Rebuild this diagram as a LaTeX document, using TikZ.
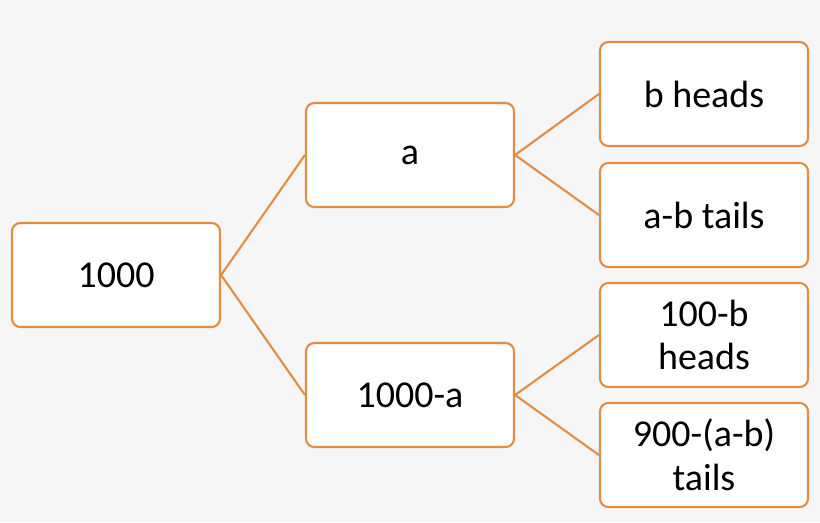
\documentclass[tikz,border=0pt]{standalone}
\usepackage{fontspec}
\setmainfont{Carlito}
\usetikzlibrary{positioning}
\definecolor{boxorange}{HTML}{E08E45}
\definecolor{paper}{HTML}{F6F6F6}

\begin{document}
\begin{tikzpicture}[x=0.025cm,y=-0.025cm,thick,
    tree node/.style={rectangle,rounded corners=6pt,draw=boxorange,line width=1.5pt,fill=white,
        minimum width=5.2cm,minimum height=2.6cm,align=center,font=\fontsize{27}{31}\selectfont},
    branch/.style={draw=boxorange,line width=1.5pt}]
    \fill[paper] (0,0) rectangle (820,522);
    \node[tree node] (root) at (116,275) {1000};
    \node[tree node] (a) at (410,155) {a};
    \node[tree node] (na) at (410,395) {1000-a};
    \node[tree node] (bh) at (704,94) {b heads};
    \node[tree node] (abt) at (704,215) {a-b tails};
    \node[tree node] (ch) at (704,335) {100-b\\heads};
    \node[tree node] (dt) at (704,455) {900-(a-b)\\tails};

    \path[branch]
        (root.east) edge (a.west)
        (root.east) edge (na.west)
        (a.east) edge (bh.west)
        (a.east) edge (abt.west)
        (na.east) edge (ch.west)
        (na.east) edge (dt.west)
        ;
\end{tikzpicture}
\end{document}
